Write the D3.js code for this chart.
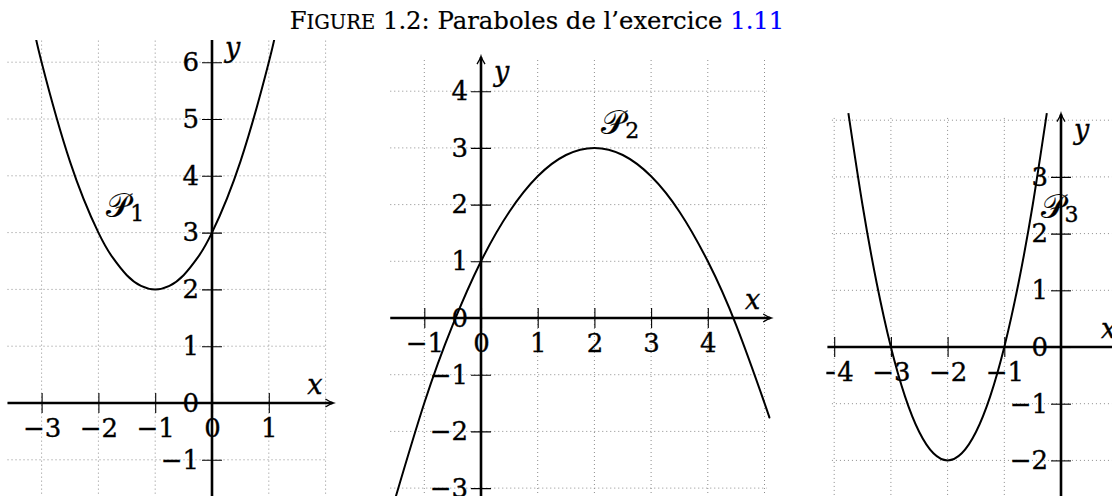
<!DOCTYPE html>
<html>
<head>
<meta charset="utf-8">
<script src="https://cdn.jsdelivr.net/npm/d3@7"></script>
<style>
  body { margin: 0; background: #fff; }
  svg { display: block; }
  text { font-family: "DejaVu Serif", serif; fill: #000; stroke: #000; stroke-width: 0.35; }
</style>
</head>
<body>
<svg id="chart" width="1112" height="496"></svg>
<script>
// ------- data -------
// P1 : sommet (-1, 2)
const p1X = [-3.12, -3, -2.5, -2, -1.75, -1.5, -1.25, -1, -0.75, -0.5, -0.25, 0, 0.5, 1, 1.12];
const p1Y = [6.53, 6, 4.25, 3, 2.5625, 2.25, 2.0625, 2, 2.0625, 2.25, 2.5625, 3, 4.25, 6, 6.53];
// P2 : sommet (2, 3)
const p2X = [-1.6, -1, -0.5, 0, 0.5, 1, 1.5, 2, 2.5, 3, 3.5, 4, 4.5, 5, 5.08];
const p2Y = [-3.48, -1.5, -0.125, 1, 1.875, 2.5, 2.875, 3, 2.875, 2.5, 1.875, 1, -0.125, -1.5, -1.74];
// P3 : sommet (-2, -2)
const p3X = [-3.75, -3.5, -3.25, -3, -2.75, -2.5, -2.25, -2, -1.75, -1.5, -1.25, -1, -0.75, -0.5, -0.25];
const p3Y = [4.125, 2.5, 1.125, 0, -0.875, -1.5, -1.875, -2, -1.875, -1.5, -0.875, 0, 1.125, 2.5, 4.125];

const p1XTicks = [-3, -2, -1, 0, 1];
const p1YTicks = [-1, 0, 1, 2, 3, 4, 5, 6];
const p2XTicks = [-1, 0, 1, 2, 3, 4];
const p2YTicks = [-3, -2, -1, 0, 1, 2, 3, 4];
const p3XTicks = [-4, -3, -2, -1];
const p3YTicks = [-2, -1, 0, 1, 2, 3];

const curveNames = ["1", "2", "3"];

// ------- layout of the three panels (pixels / units) -------
const panels = [
  { ox: 212, oy: 403, unit: 56.8, xs: p1X, ys: p1Y, xt: p1XTicks, yt: p1YTicks,
    ax: [-3.6, 2.12], ay: [-1.8, 6.52], gx: [-3.6, 2.02], gy: [-1.8, 6.45], lab: [-1.86, 3.27] },
  { ox: 481, oy: 318, unit: 56.7, xs: p2X, ys: p2Y, xt: p2XTicks, yt: p2YTicks,
    ax: [-1.6, 5.1], ay: [-3.3, 4.6], gx: [-1.6, 5.04], gy: [-3.3, 4.55], lab: [2.12, 3.25] },
  { ox: 1061, oy: 347, unit: 56.7, xs: p3X, ys: p3Y, xt: p3XTicks, yt: p3YTicks,
    ax: [-4.12, 1.15], ay: [-2.7, 4.1], gx: [-4.04, 1.1], gy: [-2.7, 4.04], lab: [-0.36, 2.27] }
];

const svg = d3.select("#chart");
const fmt = d3.format("d"); // d3 v7 gives the real minus sign

// arrow head, latex-like
svg.append("defs").append("marker")
  .attr("id", "arrow")
  .attr("markerUnits", "userSpaceOnUse")
  .attr("markerWidth", 14).attr("markerHeight", 12)
  .attr("refX", 0).attr("refY", 0)
  .attr("viewBox", "-9 -6 12 12")
  .attr("orient", "auto")
  .append("path")
  .attr("d", "M-7,-4 Q-2,-0.8 1,0 Q-2,0.8 -7,4")
  .attr("fill", "none").attr("stroke", "#000").attr("stroke-width", 1.3);

// title
const title = svg.append("text")
  .attr("x", 537).attr("y", 29)
  .attr("text-anchor", "middle")
  .attr("font-size", 24.3)
  .style("stroke-width", 0.2);
title.append("tspan").text("F");
title.append("tspan").attr("font-size", 19.5).text("IGURE");
title.append("tspan").text(" 1.2: Paraboles de l\u2019exercice ");
title.append("tspan").style("fill", "#0000ff").style("stroke", "#0000ff").text("1.11");

panels.forEach((p, i) => {
  const x = d3.scaleLinear().domain([0, 1]).range([p.ox, p.ox + p.unit]);
  const y = d3.scaleLinear().domain([0, 1]).range([p.oy, p.oy - p.unit]);

  svg.append("clipPath").attr("id", "clip" + i)
    .append("rect")
    .attr("x", x(p.ax[0]) - 1).attr("y", 40)
    .attr("width", 1112).attr("height", 500);

  const g = svg.append("g").attr("clip-path", `url(#clip${i})`);

  // grid, dotted
  const grid = g.append("g")
    .attr("stroke", "#8c8c8c").attr("stroke-width", 1)
    .attr("stroke-dasharray", "1,3");
  grid.selectAll(".gv")
    .data(d3.range(Math.ceil(p.gx[0]), Math.floor(p.gx[1]) + 1))
    .join("line")
    .attr("x1", d => x(d)).attr("x2", d => x(d))
    .attr("y1", y(p.gy[1])).attr("y2", y(p.gy[0]));
  grid.selectAll(".gh")
    .data(d3.range(Math.ceil(p.gy[0]), Math.floor(p.gy[1]) + 1))
    .join("line")
    .attr("y1", d => y(d)).attr("y2", d => y(d))
    .attr("x1", x(p.gx[0])).attr("x2", x(p.gx[1]));

  // axes
  const xAxis = d3.axisBottom(x).tickValues(p.xt).tickFormat(fmt).tickSize(10).tickPadding(6);
  const yAxis = d3.axisLeft(y).tickValues(p.yt).tickFormat(fmt).tickSize(10).tickPadding(3);

  g.append("g").attr("transform", `translate(0,${p.oy})`).call(xAxis)
    .call(a => a.select(".domain").remove())
    .call(a => a.selectAll(".tick line").attr("y1", -10).attr("stroke-width", 1.1))
    .call(a => a.selectAll(".tick text").attr("font-size", 26).attr("font-family", "DejaVu Serif"));

  g.append("g").attr("transform", `translate(${p.ox},0)`).call(yAxis)
    .call(a => a.select(".domain").remove())
    .call(a => a.selectAll(".tick line").attr("x1", 10).attr("stroke-width", 1.1))
    .call(a => a.selectAll(".tick text").attr("font-size", 26).attr("font-family", "DejaVu Serif"));

  g.append("line")
    .attr("x1", x(p.ax[0])).attr("x2", x(p.ax[1]))
    .attr("y1", p.oy).attr("y2", p.oy)
    .attr("stroke", "#000").attr("stroke-width", 2.6)
    .attr("marker-end", "url(#arrow)");
  g.append("line")
    .attr("x1", p.ox).attr("x2", p.ox)
    .attr("y1", y(p.ay[0])).attr("y2", y(p.ay[1]))
    .attr("stroke", "#000").attr("stroke-width", 2.6)
    .attr("marker-end", "url(#arrow)");

  g.append("text")
    .attr("x", x(p.ax[1]) - 10).attr("y", p.oy - 9)
    .attr("text-anchor", "end")
    .attr("font-size", 27).attr("font-style", "italic")
    .text("x");
  g.append("text")
    .attr("x", p.ox + 13).attr("y", y(p.ay[1]) + 24)
    .attr("font-size", 27).attr("font-style", "italic")
    .text("y");

  // the parabola
  const pts = p.xs.map((v, k) => [v, p.ys[k]]);
  g.append("path")
    .datum(pts)
    .attr("fill", "none").attr("stroke", "#000").attr("stroke-width", 2)
    .attr("d", d3.line().x(d => x(d[0])).y(d => y(d[1])).curve(d3.curveNatural));

  const lab = g.append("text")
    .attr("x", x(p.lab[0])).attr("y", y(p.lab[1]))
    .attr("font-size", 33).style("stroke-width", 0.2);
  lab.append("tspan").text("\u{1D4AB}");
  lab.append("tspan").attr("font-size", 22).attr("dy", 4).style("stroke-width", 0.35).text(curveNames[i]);
});
</script>
</body>
</html>
